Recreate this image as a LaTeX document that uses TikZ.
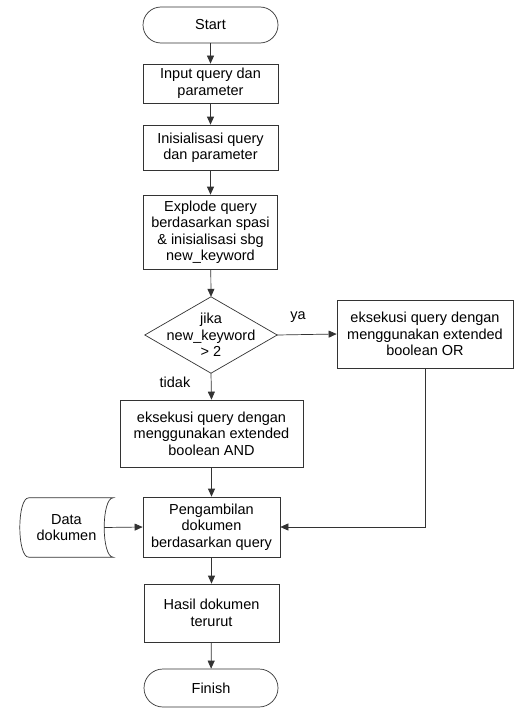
\documentclass[tikz,border=0pt]{standalone}
\usepackage{fontspec}
\setmainfont{Liberation Sans}
\usetikzlibrary{arrows.meta,calc}
\begin{document}
\begin{tikzpicture}[x=1pt,y=-1pt,
  font=\fontsize{14.5}{16.5}\selectfont,
  line/.style={draw=black!80, line width=0.7pt},
  box/.style={line, rectangle, align=center, inner sep=0pt},
  term/.style={box, rounded corners=#1},
  flow/.style={line, -{Triangle[length=8pt,width=7pt]}},
  lbl/.style={inner sep=0pt},
]
\useasboundingbox[fill=white] (0,0) rectangle (523,709);

% main column
\node[term=18pt, minimum width=135pt, minimum height=36pt] (start) at (210.5,25) {Start};
\node[box, minimum width=135pt, minimum height=39pt] (input) at (210.5,83.5) {Input query dan\\parameter};
\node[box, minimum width=135pt, minimum height=45pt] (init) at (210.5,147.5) {Inisialisasi query\\dan parameter};
\node[box, minimum width=134pt, minimum height=74pt] (expl) at (210.5,232) {Explode query\\berdasarkan spasi\\\& inisialisasi sbg\\new\_keyword};

% decision
\node[lbl, minimum width=132pt, minimum height=76pt, align=center] (dec) at (211,335) {jika\\new\_keyword\\> 2};
\draw[line] (dec.north) -- (dec.east) -- (dec.south) -- (dec.west) -- cycle;

% branches
\node[box, minimum width=176pt, minimum height=68pt] (orb) at (425,334) {eksekusi query dengan\\menggunakan extended\\boolean OR};
\node[box, minimum width=183pt, minimum height=67pt] (andb) at (211.5,433.5) {eksekusi query dengan\\menggunakan extended\\boolean AND};

% retrieval
\node[box, minimum width=137pt, minimum height=60pt] (get) at (211.5,527) {Pengambilan\\dokumen\\berdasarkan query};
\node[box, minimum width=135pt, minimum height=58pt] (res) at (211.5,613) {Hasil dokumen\\terurut};
\node[term=19pt, minimum width=134pt, minimum height=38pt] (fin) at (211,688) {Finish};

% stored data
\node[lbl, minimum width=93pt, minimum height=59pt, align=center] (data) at (66.5,527.5) {Data\\dokumen};
\draw[line] ($(data.north west)+(9,0)$) -- (data.north east)
  .. controls ($(data.north east)+(-12,0)$) and ($(data.south east)+(-12,0)$) .. (data.south east)
  -- ($(data.south west)+(9,0)$)
  .. controls ($(data.south west)+(-3,0)$) and ($(data.north west)+(-3,0)$) .. ($(data.north west)+(9,0)$);
\coordinate (dataout) at ($(data.east)+(-9,0)$);

% connectors
\draw[flow] (start) -- (input);
\draw[flow] (input) -- (init);
\draw[flow] (init) -- (expl);
\draw[flow] (expl) -- (dec.north);
\draw[flow] (dec.east) -- (orb.west);
\draw[flow] (dec.south) -- (andb.north);
\draw[flow] (andb) -- (get);
\draw[flow] (dataout) -- (get.west);
\draw[flow] (orb.south) |- (get.east);
\draw[flow] (get) -- (res);
\draw[flow] (res) -- (fin);

% branch labels
\node[lbl] (ya) at (298,317) {ya};
\node[lbl] (tidak) at (175,382) {tidak};
\end{tikzpicture}
\end{document}
